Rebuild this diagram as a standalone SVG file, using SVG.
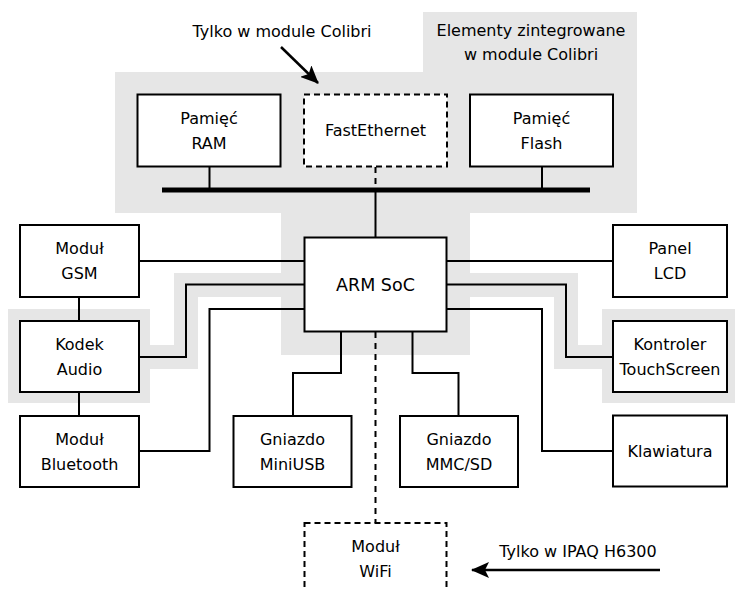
<svg xmlns="http://www.w3.org/2000/svg" width="735" height="589" viewBox="0 0 735 589">
<defs>
<style>
.box{fill:#fff;stroke:#000;stroke-width:2}
.dbox{fill:#fff;stroke:#000;stroke-width:2;stroke-dasharray:6,4}
.w{fill:none;stroke:#000;stroke-width:2}
.dw{fill:none;stroke:#000;stroke-width:2;stroke-dasharray:6,5}
.band{fill:none;stroke:#e6e6e6;stroke-width:24;stroke-linejoin:miter}
.g{fill:#e6e6e6}
text{font-family:"DejaVu Sans",sans-serif;font-size:16px;text-anchor:middle;fill:#000}
</style>
<marker id="ah" viewBox="0 0 18 16" refX="17" refY="8" markerWidth="18" markerHeight="16" markerUnits="userSpaceOnUse" orient="auto">
<path d="M0,0 L18,8 L0,16 L4,8 Z" fill="#000"/>
</marker>
</defs>
<g id="background">
<polygon class="g" points="115,72 423,72 423,12 637,12 637,213 470,213 470,355 281,355 281,213 115,213"/>
<rect class="g" x="8" y="309" width="142" height="94"/>
<rect class="g" x="602" y="309" width="140" height="94"/>
<path class="band" d="M282,285 H186 V357 H148"/>
<path class="band" d="M469,285 H566 V357 H604"/>
</g>
<g id="connectors">
<line x1="162" y1="190" x2="590" y2="190" stroke="#000" stroke-width="5"/>
<path class="w" d="M209.5,167 V190"/>
<path class="w" d="M542,167 V190"/>
<path class="w" d="M375.5,190 V238"/>
<path class="dw" d="M375.5,167 V190"/>
<path class="dw" d="M375.5,332 V523"/>
<path class="w" d="M139,261 H305"/>
<path class="w" d="M305,284.5 H186 V357 H139"/>
<path class="w" d="M305,309 H209.5 V451 H139"/>
<path class="w" d="M446,261 H613"/>
<path class="w" d="M446,284.5 H566 V357 H613"/>
<path class="w" d="M446,309 H542 V451 H613"/>
<path class="w" d="M341,332 V373 H293 V416"/>
<path class="w" d="M412.5,332 V373 H458.5 V416"/>
<path class="w" d="M79,297 V321"/>
<path class="w" d="M79,392 V416"/>
<line x1="281" y1="47" x2="318" y2="83" stroke="#000" stroke-width="2.5" marker-end="url(#ah)"/>
<line x1="660" y1="570" x2="472" y2="570" stroke="#000" stroke-width="2.5" marker-end="url(#ah)"/>
</g>
<g id="labels">
<text x="282" y="37">Tylko w module Colibri</text>
<text x="531" y="36">Elementy zintegrowane</text>
<text x="531" y="60">w module Colibri</text>
<text x="578" y="557">Tylko w IPAQ H6300</text>
</g>
<g id="ram"><rect class="box" x="137.5" y="94.5" width="143" height="72"/><text x="209" y="124">Pamięć</text><text x="209" y="149">RAM</text></g>
<g id="fastethernet"><rect class="dbox" x="304" y="94.5" width="143" height="72"/><text x="375.5" y="136">FastEthernet</text></g>
<g id="flash"><rect class="box" x="470" y="94.5" width="143" height="72"/><text x="541.5" y="124">Pamięć</text><text x="541.5" y="149">Flash</text></g>
<g id="gsm"><rect class="box" x="20" y="225" width="119" height="72"/><text x="79.5" y="254">Moduł</text><text x="79.5" y="279">GSM</text></g>
<g id="kodek"><rect class="box" x="20" y="321" width="119" height="71"/><text x="79.5" y="350">Kodek</text><text x="79.5" y="375">Audio</text></g>
<g id="bluetooth"><rect class="box" x="20" y="416" width="119" height="71"/><text x="79.5" y="445">Moduł</text><text x="79.5" y="470">Bluetooth</text></g>
<g id="arm"><rect class="box" x="304.5" y="237.5" width="142" height="94"/><text x="375.5" y="291" style="font-size:17.5px">ARM SoC</text></g>
<g id="lcd"><rect class="box" x="613" y="225" width="114" height="72"/><text x="670" y="254">Panel</text><text x="670" y="279">LCD</text></g>
<g id="touch"><rect class="box" x="613" y="321" width="114" height="71"/><text x="670" y="350">Kontroler</text><text x="670" y="375">TouchScreen</text></g>
<g id="klawiatura"><rect class="box" x="613" y="415.5" width="114" height="71"/><text x="670" y="457">Klawiatura</text></g>
<g id="miniusb"><rect class="box" x="233.5" y="416" width="118" height="71"/><text x="292.5" y="445">Gniazdo</text><text x="292.5" y="470">MiniUSB</text></g>
<g id="mmc"><rect class="box" x="400" y="416" width="118" height="71"/><text x="459" y="445">Gniazdo</text><text x="459" y="470">MMC/SD</text></g>
<g id="wifi"><rect class="dbox" x="304.5" y="523" width="142" height="80"/><text x="375.5" y="552">Moduł</text><text x="375.5" y="577">WiFi</text></g>
</svg>
